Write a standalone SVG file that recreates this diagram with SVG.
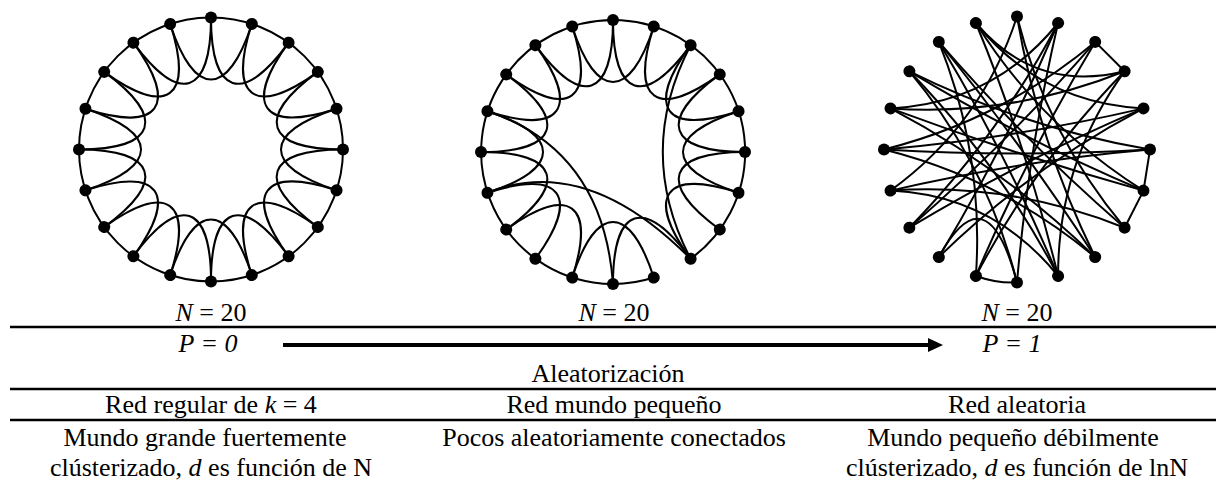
<svg xmlns="http://www.w3.org/2000/svg" width="1216" height="484" viewBox="0 0 1216 484">
<style>
.e{fill:none;stroke:#000;stroke-width:2}
.d{fill:#000}
.t{font-family:'Liberation Serif','Times New Roman',serif;font-size:26px;fill:#000;text-anchor:middle}
.i{font-style:italic}
.rule{stroke:#000;stroke-width:2.5}
</style>
<defs>
<path id="pt" class="e" d="M0,-132 C0,-54.1 31.8,-43.8 77.6,-106.8"/>
<circle id="dot" class="d" cx="0" cy="-132" r="6"/>
<circle id="dot3" class="d" cx="0" cy="-133" r="6"/>
</defs>
<rect width="1216" height="484" fill="#fff"/>

<g id="regular-network" transform="translate(211,149.5)">
<circle class="e" r="132"/>
<use href="#pt"/><use href="#pt" transform="rotate(18)"/><use href="#pt" transform="rotate(36)"/><use href="#pt" transform="rotate(54)"/><use href="#pt" transform="rotate(72)"/><use href="#pt" transform="rotate(90)"/><use href="#pt" transform="rotate(108)"/><use href="#pt" transform="rotate(126)"/><use href="#pt" transform="rotate(144)"/><use href="#pt" transform="rotate(162)"/><use href="#pt" transform="rotate(180)"/><use href="#pt" transform="rotate(198)"/><use href="#pt" transform="rotate(216)"/><use href="#pt" transform="rotate(234)"/><use href="#pt" transform="rotate(252)"/><use href="#pt" transform="rotate(270)"/><use href="#pt" transform="rotate(288)"/><use href="#pt" transform="rotate(306)"/><use href="#pt" transform="rotate(324)"/><use href="#pt" transform="rotate(342)"/>
<use href="#dot"/><use href="#dot" transform="rotate(18)"/><use href="#dot" transform="rotate(36)"/><use href="#dot" transform="rotate(54)"/><use href="#dot" transform="rotate(72)"/><use href="#dot" transform="rotate(90)"/><use href="#dot" transform="rotate(108)"/><use href="#dot" transform="rotate(126)"/><use href="#dot" transform="rotate(144)"/><use href="#dot" transform="rotate(162)"/><use href="#dot" transform="rotate(180)"/><use href="#dot" transform="rotate(198)"/><use href="#dot" transform="rotate(216)"/><use href="#dot" transform="rotate(234)"/><use href="#dot" transform="rotate(252)"/><use href="#dot" transform="rotate(270)"/><use href="#dot" transform="rotate(288)"/><use href="#dot" transform="rotate(306)"/><use href="#dot" transform="rotate(324)"/><use href="#dot" transform="rotate(342)"/>
</g>

<g id="small-world-network" transform="translate(613,152)">
<path class="e" d="M40.8,125.5 A132,132 0 1 1 77.6,106.8"/>
<use href="#pt"/><use href="#pt" transform="rotate(18)"/><use href="#pt" transform="rotate(36)"/><use href="#pt" transform="rotate(54)"/><use href="#pt" transform="rotate(72)"/><use href="#pt" transform="rotate(90)"/><use href="#pt" transform="rotate(108)"/><use href="#pt" transform="rotate(144)"/><use href="#pt" transform="rotate(162)"/><use href="#pt" transform="rotate(198)"/><use href="#pt" transform="rotate(216)"/><use href="#pt" transform="rotate(234)"/><use href="#pt" transform="rotate(252)"/><use href="#pt" transform="rotate(270)"/><use href="#pt" transform="rotate(288)"/><use href="#pt" transform="rotate(306)"/><use href="#pt" transform="rotate(324)"/><use href="#pt" transform="rotate(342)"/>
<path class="e" d="M-125.5,-40.8 Q-10,-2 0,132"/>
<path class="e" d="M-125.5,40.8 Q-27,1 77.6,106.8"/>
<path class="e" d="M77.6,-106.8 Q22,0 77.6,106.8"/>
<use href="#dot"/><use href="#dot" transform="rotate(18)"/><use href="#dot" transform="rotate(36)"/><use href="#dot" transform="rotate(54)"/><use href="#dot" transform="rotate(72)"/><use href="#dot" transform="rotate(90)"/><use href="#dot" transform="rotate(108)"/><use href="#dot" transform="rotate(126)"/><use href="#dot" transform="rotate(144)"/><use href="#dot" transform="rotate(162)"/><use href="#dot" transform="rotate(180)"/><use href="#dot" transform="rotate(198)"/><use href="#dot" transform="rotate(216)"/><use href="#dot" transform="rotate(234)"/><use href="#dot" transform="rotate(252)"/><use href="#dot" transform="rotate(270)"/><use href="#dot" transform="rotate(288)"/><use href="#dot" transform="rotate(306)"/><use href="#dot" transform="rotate(324)"/><use href="#dot" transform="rotate(342)"/>
</g>

<g id="random-network" transform="translate(1017,149.5)">
<g class="e">
<path d="M78.2,-107.6 L107.6,-78.2"/>
<path d="M133,0 L126.5,41.1"/>
<path d="M126.5,41.1 L107.6,78.2"/>
<path d="M0,133 Q-20,134 -41.1,126.5"/>
<path d="M0,-133 Q-34.8,-25.3 -126.5,41.1"/>
<path d="M0,-133 Q21.5,-7 78.2,107.6"/>
<path d="M41.1,-126.5 Q-18.3,-13.3 -107.6,78.2"/>
<path d="M41.1,-126.5 Q-10.2,-5.2 -78.2,107.6"/>
<path d="M41.1,-126.5 Q11.3,1.8 0,133"/>
<path d="M41.1,-126.5 Q-23.5,-46.1 -126.5,-41.1"/>
<path d="M78.2,-107.6 Q-8.1,-8.1 -107.6,78.2"/>
<path d="M78.2,-107.6 Q10.2,5.2 -41.1,126.5"/>
<path d="M107.6,-78.2 Q-5.2,-32.8 -126.5,-41.1"/>
<path d="M107.6,-78.2 Q40.9,13.3 41.1,126.5"/>
<path d="M107.6,-78.2 Q18.3,-56.3 -41.1,-126.5"/>
<path d="M126.5,-41.1 Q-1.8,-11.3 -133,0"/>
<path d="M126.5,-41.1 Q5.2,10.2 -107.6,78.2"/>
<path d="M133,0 Q0,8 -133,0"/>
<path d="M133,0 Q7,-21.5 -107.6,-78.2"/>
<path d="M126.5,41.1 Q5.2,-10.2 -107.6,-78.2"/>
<path d="M126.5,41.1 Q0,6 -126.5,-41.1"/>
<path d="M107.6,78.2 Q8.1,-8.1 -78.2,-107.6"/>
<path d="M107.6,78.2 Q-5.2,32.8 -126.5,41.1"/>
<path d="M78.2,107.6 Q6,-4 -78.2,-107.6"/>
<path d="M78.2,107.6 Q-15.1,29.6 -133,0"/>
<path d="M41.1,126.5 Q-18.3,13.3 -107.6,-78.2"/>
<path d="M41.1,126.5 Q-10.2,5.2 -78.2,-107.6"/>
<path d="M0,133 Q-29.6,15.1 -107.6,-78.2"/>
<path d="M0,133 Q-30,20 -78.2,107.6"/>
<path d="M-41.1,126.5 Q-32.8,5.2 -78.2,-107.6"/>
<path d="M-78.2,107.6 Q13.3,18.3 126.5,-41.1"/>
<path d="M-126.5,41.1 Q1.8,11.3 133,0"/>
<path d="M-41.1,-126.5 Q8,-8 41.1,126.5"/>
<path d="M-41.1,-126.5 Q23.5,-23.5 126.5,41.1"/>
<path d="M0,-133 Q29.6,-15.1 107.6,78.2"/>
<path d="M-126.5,-41.1 Q-13.3,18.3 78.2,107.6"/>
<path d="M126.5,-41.1 Q23.5,-46.1 -41.1,-126.5"/>
<path d="M-133,0 Q-15.1,-29.6 78.2,-107.6"/>
<path d="M-126.5,41.1 Q-23.5,46.1 41.1,126.5"/>
<path d="M-41.1,126.5 Q18.3,13.3 107.6,-78.2"/>
</g>
<use href="#dot3"/><use href="#dot3" transform="rotate(18)"/><use href="#dot3" transform="rotate(36)"/><use href="#dot3" transform="rotate(54)"/><use href="#dot3" transform="rotate(72)"/><use href="#dot3" transform="rotate(90)"/><use href="#dot3" transform="rotate(108)"/><use href="#dot3" transform="rotate(126)"/><use href="#dot3" transform="rotate(144)"/><use href="#dot3" transform="rotate(162)"/><use href="#dot3" transform="rotate(180)"/><use href="#dot3" transform="rotate(198)"/><use href="#dot3" transform="rotate(216)"/><use href="#dot3" transform="rotate(234)"/><use href="#dot3" transform="rotate(252)"/><use href="#dot3" transform="rotate(270)"/><use href="#dot3" transform="rotate(288)"/><use href="#dot3" transform="rotate(306)"/><use href="#dot3" transform="rotate(324)"/><use href="#dot3" transform="rotate(342)"/>
</g>

<g id="table">
<line class="rule" x1="10" y1="327" x2="1216" y2="327"/>
<line class="rule" x1="10" y1="389" x2="1216" y2="389"/>
<line class="rule" x1="10" y1="420" x2="1216" y2="420"/>
<text class="t" x="211" y="321"><tspan class="i">N</tspan> = 20</text>
<text class="t" x="614" y="321"><tspan class="i">N</tspan> = 20</text>
<text class="t" x="1017" y="321"><tspan class="i">N</tspan> = 20</text>
<text class="t i" x="208" y="352">P = 0</text>
<text class="t i" x="1012" y="352">P = 1</text>
<text class="t" x="608" y="382">Aleatorización</text>
<text class="t" x="211" y="413">Red regular de <tspan class="i">k</tspan> = 4</text>
<text class="t" x="614" y="413">Red mundo pequeño</text>
<text class="t" x="1017" y="413">Red aleatoria</text>
<text class="t" x="205" y="446">Mundo grande fuertemente</text>
<text class="t" x="211" y="476">clústerizado, <tspan class="i">d</tspan> es función de N</text>
<text class="t" x="614" y="446">Pocos aleatoriamente conectados</text>
<text class="t" x="1013" y="446">Mundo pequeño débilmente</text>
<text class="t" x="1017" y="476">clústerizado, <tspan class="i">d</tspan> es función de lnN</text>
</g>

<g id="connectors">
<line x1="283" y1="345" x2="930" y2="345" stroke="#000" stroke-width="4"/>
<polygon points="928,338 943,345 928,352" fill="#000"/>
</g>
</svg>
